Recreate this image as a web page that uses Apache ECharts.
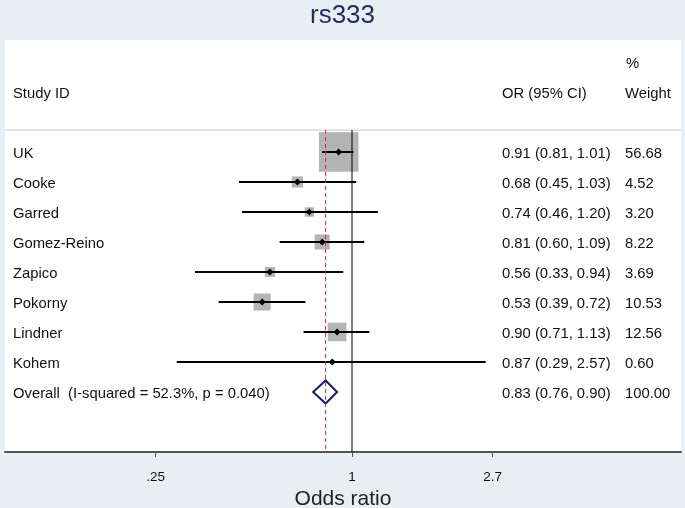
<!DOCTYPE html>
<html>
<head>
<meta charset="utf-8">
<script src="https://cdn.jsdelivr.net/npm/echarts@6/dist/echarts.min.js"></script>
<style>html,body{margin:0;padding:0;background:#e8eef2;}#c{width:685px;height:508px;}</style>
</head>
<body>
<div id="c"></div>
<script>
// ---- data ----
const studies = ['UK','Cooke','Garred','Gomez-Reino','Zapico','Pokorny','Lindner','Kohem'];
const orValues = [0.91,0.68,0.74,0.81,0.56,0.53,0.90,0.87];
const ciLow = [0.81,0.45,0.46,0.60,0.33,0.39,0.71,0.29];
const ciHigh = [1.01,1.03,1.20,1.09,0.94,0.72,1.13,2.57];
const weights = [56.68,4.52,3.20,8.22,3.69,10.53,12.56,0.60];
const overallLabel = 'Overall  (I-squared = 52.3%, p = 0.040)';
const overallOR = [0.83, 0.76, 0.90];
const overallWeight = 100.00;
const tickValues = [0.25, 1, 2.7];
const tickLabels = ['.25', '1', '2.7'];

// ---- layout ----
const FONT = '"Liberation Sans", Arial, sans-serif';
const XMIN = -347/141.6, XMAX = 329/141.6;
const YMIN = -3.733, YMAX = 10;
const SEP = -0.733;
const BOX_K = 5.25;
const X_NAME = 13, X_OR = 502, X_W = 625;
const TXT_DY = 1.5;
const TXT = {fontSize: 14.8, fontFamily: FONT, fill: '#111'};

const chart = echarts.init(document.getElementById('c'));

function txt(x, y, s, align) {
  return {type: 'text', x: x, y: y + TXT_DY, style: Object.assign({text: s, textAlign: align || 'left', textVerticalAlign: 'middle'}, TXT)};
}

function renderStudy(params, api) {
  const i = params.dataIndex;
  const row = api.value(0);
  const c = api.coord([Math.log(api.value(1)), row]);
  const l = api.coord([Math.log(api.value(2)), row]);
  const h = api.coord([Math.log(api.value(3)), row]);
  const s = BOX_K * Math.sqrt(api.value(4));
  const d = 3.5;
  return {type: 'group', children: [
    {type: 'rect', shape: {x: c[0]-s/2, y: c[1]-s/2, width: s, height: s}, style: {fill: '#b4b4b4'}},
    {type: 'line', shape: {x1: l[0], y1: l[1], x2: h[0], y2: h[1]}, style: {stroke: '#000', lineWidth: 2}},
    {type: 'polygon', shape: {points: [[c[0]-d, c[1]], [c[0], c[1]-d], [c[0]+d, c[1]], [c[0], c[1]+d]]}, style: {fill: '#000'}},
    txt(X_NAME, c[1], studies[i]),
    txt(X_OR, c[1], orValues[i].toFixed(2) + ' (' + ciLow[i].toFixed(2) + ', ' + ciHigh[i].toFixed(2) + ')'),
    txt(X_W, c[1], weights[i].toFixed(2))
  ]};
}

function renderOverall(params, api) {
  const row = api.value(0);
  const c = api.coord([Math.log(api.value(1)), row]);
  const l = api.coord([Math.log(api.value(2)), row]);
  const h = api.coord([Math.log(api.value(3)), row]);
  const hh = 11.5;
  return {type: 'group', children: [
    {type: 'polygon', shape: {points: [[l[0], c[1]], [c[0], c[1]-hh], [h[0], c[1]], [c[0], c[1]+hh]]}, style: {fill: '#fff', stroke: '#1c1c6c', lineWidth: 2}},
    txt(X_NAME, c[1], overallLabel),
    txt(X_OR, c[1], overallOR[0].toFixed(2) + ' (' + overallOR[1].toFixed(2) + ', ' + overallOR[2].toFixed(2) + ')'),
    txt(X_W, c[1], overallWeight.toFixed(2))
  ]};
}

function renderHeader(params, api) {
  const y1 = api.coord([0, -2])[1];
  const y0 = api.coord([0, -3])[1];
  return {type: 'group', children: [
    txt(X_NAME, y1, 'Study ID'),
    txt(X_OR, y1, 'OR (95% CI)'),
    txt(X_W + 1, y0, '%'),
    txt(X_W, y1, 'Weight')
  ]};
}

const studyData = studies.map((s, i) => [i, orValues[i], ciLow[i], ciHigh[i], weights[i]]);
const overallRow = studies.length;
const tickLn = tickValues.map(v => Math.log(v));

chart.setOption({
  backgroundColor: '#e8eef2',
  animation: false,
  title: {text: 'rs333', left: 'center', top: -2, textStyle: {fontSize: 26, fontWeight: 'normal', color: '#1f2d5c', fontFamily: FONT}},
  grid: {left: 5, right: 4, top: 40, bottom: 56, show: true, backgroundColor: '#fff', borderWidth: 0, outerBoundsMode: 'none', containLabel: false},
  xAxis: {
    type: 'value', min: XMIN, max: XMAX,
    splitLine: {show: false},
    axisLine: {show: true, onZero: false, lineStyle: {color: '#555', width: 2}},
    axisTick: {show: true, customValues: tickLn, length: 5, lineStyle: {color: '#555'}},
    axisLabel: {customValues: tickLn, margin: 18, fontSize: 13.5, color: '#111', fontFamily: FONT,
      formatter: v => { let k = 0, best = 1e9; tickLn.forEach((t, j) => { if (Math.abs(t - v) < best) { best = Math.abs(t - v); k = j; } }); return tickLabels[k]; }},
    name: 'Odds ratio', nameLocation: 'middle', nameGap: 34,
    nameTextStyle: {fontSize: 21, color: '#222', fontFamily: FONT}
  },
  yAxis: {type: 'value', min: YMIN, max: YMAX, inverse: true, show: false, splitLine: {show: false}},
  series: [
    {type: 'line', data: [[XMIN, SEP], [XMAX, SEP]], symbol: 'none', lineStyle: {color: '#c8c8c8', width: 1}, silent: true},
    {type: 'line', data: [[0, SEP], [0, YMAX]], symbol: 'none', lineStyle: {color: '#000', width: 1}, silent: true},
    {type: 'line', data: [[Math.log(overallOR[0]), SEP], [Math.log(overallOR[0]), YMAX]], symbol: 'none', lineStyle: {color: '#b83040', width: 1, type: [4, 3]}, silent: true},
    {type: 'custom', renderItem: renderStudy, data: studyData, silent: true},
    {type: 'custom', renderItem: renderOverall, data: [[overallRow, overallOR[0], overallOR[1], overallOR[2]]], silent: true},
    {type: 'custom', renderItem: renderHeader, data: [[0, 0]], silent: true}
  ]
});
</script>
</body>
</html>
